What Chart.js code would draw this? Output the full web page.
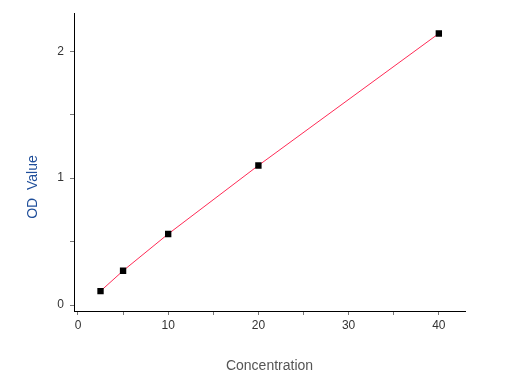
<!DOCTYPE html>
<html>
<head>
<meta charset="utf-8">
<script src="https://cdn.jsdelivr.net/npm/chart.js@4"></script>
<style>
  html, body { margin: 0; padding: 0; background: #fff; }
  #wrap { width: 528px; height: 389px; position: relative; }
</style>
</head>
<body>
<div id="wrap"><canvas id="c"></canvas></div>
<script>
const conc   = [2.5, 5, 10, 20, 40];
const od     = [0.11, 0.27, 0.56, 1.10, 2.14];
const xTicks = [0, 5, 10, 15, 20, 25, 30, 35, 40];
const yTicks = [0, 0.5, 1, 1.5, 2];

const FONT = 'Liberation Sans, Arial, sans-serif';

// y axis title sits a bit lower than the plot centre in the original
const yTitle = {
  id: 'yTitle',
  afterDraw(chart) {
    const c = chart.ctx;
    c.save();
    c.translate(33, 187);
    c.rotate(-Math.PI / 2);
    c.font = '14px ' + FONT;
    c.fillStyle = '#1f4e9a';
    c.textAlign = 'center';
    c.textBaseline = 'middle';
    c.fillText('OD  Value', 0, 0);
    c.restore();
  }
};

new Chart(document.getElementById('c'), {
  type: 'scatter',
  data: {
    datasets: [{
      label: 'OD',
      data: conc.map((x, i) => ({ x, y: od[i] })),
      showLine: true,
      borderColor: '#ff2a55',
      borderWidth: 1,
      tension: 0,
      pointStyle: 'rect',
      pointRadius: 4.5,
      pointBackgroundColor: '#000',
      pointBorderColor: '#000',
      pointBorderWidth: 0
    }]
  },
  options: {
    responsive: true,
    maintainAspectRatio: false,
    animation: false,
    layout: { padding: { top: 13, right: 63, left: 0, bottom: 0 } },
    plugins: { legend: { display: false }, tooltip: { enabled: false } },
    scales: {
      x: {
        type: 'linear',
        min: -0.44,
        max: 42.9,
        afterBuildTicks: s => { s.ticks = xTicks.map(v => ({ value: v })); },
        afterFit: s => { s.height = 78; },
        border: { display: true, color: '#000', width: 1 },
        grid: { drawOnChartArea: false, drawTicks: true, tickLength: 4, color: '#777' },
        ticks: {
          autoSkip: false,
          maxRotation: 0,
          padding: 3,
          color: '#333',
          font: { family: FONT, size: 12 },
          callback: v => (v % 10 === 0 ? v : '')
        },
        title: {
          display: true,
          text: 'Concentration',
          color: '#555',
          font: { family: FONT, size: 14 },
          padding: { top: 0, bottom: 14 }
        }
      },
      y: {
        type: 'linear',
        min: -0.047,
        max: 2.30,
        afterBuildTicks: s => { s.ticks = yTicks.map(v => ({ value: v })); },
        afterFit: s => { s.width = 74; },
        border: { display: true, color: '#000', width: 1 },
        grid: { drawOnChartArea: false, drawTicks: true, tickLength: 4, color: '#777' },
        ticks: {
          autoSkip: false,
          padding: 6,
          color: '#333',
          font: { family: FONT, size: 12 },
          callback: v => (v % 1 === 0 ? v : '')
        }
      }
    }
  },
  plugins: [yTitle]
});
</script>
</body>
</html>
